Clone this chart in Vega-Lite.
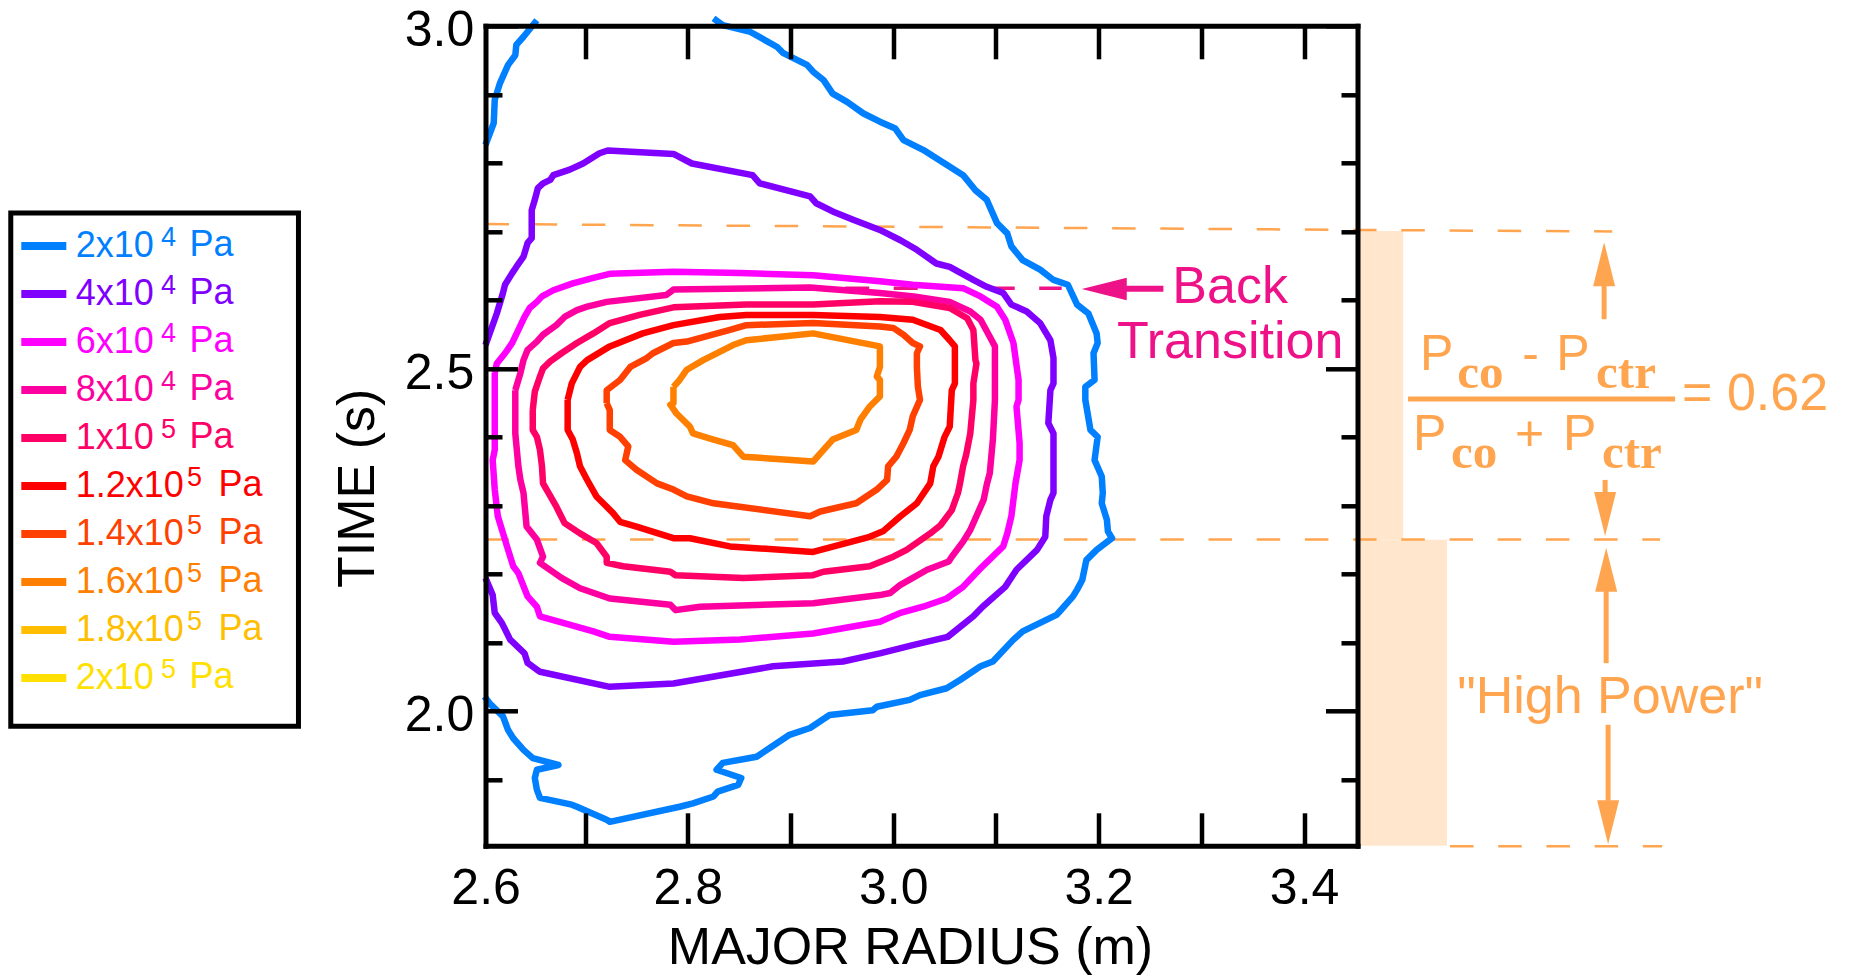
{
"$schema":"https://vega.github.io/schema/vega-lite/v6.json",
"width":872,"height":820,
"autosize":{"type":"none"},
"padding":{"left":485.5,"top":25.8,"right":497.5,"bottom":132.2},
"background":"white",
"config":{"view":{"stroke":null},"axis":{"grid":false}},
"datasets":{
"bars":[{"r":3.452,"r2":3.4964,"t":2.7005,"t2":2.2496},{"r":3.452,"r2":3.5392,"t":2.2496,"t2":1.803}],
"dashes":[{"g":"a","i":0,"r":2.603,"t":2.7107},{"g":"a","i":1,"r":3.452,"t":2.702},{"g":"a","i":2,"r":3.7,"t":2.6998},{"g":"b","i":0,"r":2.603,"t":2.2503},{"g":"b","i":1,"r":3.7466,"t":2.2503},{"g":"c","i":0,"r":3.5421,"t":1.8023},{"g":"c","i":1,"r":3.7486,"t":1.8023}],
"legendbox":[{"r":2.1408,"r2":2.4209,"t":2.7268,"t2":1.9774}],
"sups":[{"s":"4","v":20000,"r":2.287,"t":2.6779},{"s":"4","v":40000,"r":2.287,"t":2.6079},{"s":"4","v":60000,"r":2.287,"t":2.5378},{"s":"4","v":80000,"r":2.287,"t":2.4678},{"s":"5","v":100000,"r":2.287,"t":2.3977},{"s":"5","v":120000,"r":2.3124,"t":2.3277},{"s":"5","v":140000,"r":2.3124,"t":2.2576},{"s":"5","v":160000,"r":2.3124,"t":2.1876},{"s":"5","v":180000,"r":2.3124,"t":2.1175},{"s":"5","v":200000,"r":2.287,"t":2.0475}],
"units":[{"s":"Pa","v":20000,"r":2.3148,"t":2.6636},{"s":"Pa","v":40000,"r":2.3148,"t":2.5936},{"s":"Pa","v":60000,"r":2.3148,"t":2.5235},{"s":"Pa","v":80000,"r":2.3148,"t":2.4535},{"s":"Pa","v":100000,"r":2.3148,"t":2.3834},{"s":"Pa","v":120000,"r":2.343,"t":2.3134},{"s":"Pa","v":140000,"r":2.343,"t":2.2433},{"s":"Pa","v":160000,"r":2.343,"t":2.1733},{"s":"Pa","v":180000,"r":2.343,"t":2.1032},{"s":"Pa","v":200000,"r":2.3148,"t":2.0332}],
"contours":[
{"p":"b1","v":20000,"i":0,"r":2.603,"t":2.826},{"p":"b1","v":20000,"i":1,"r":2.611,"t":2.858},{"p":"b1","v":20000,"i":2,"r":2.612,"t":2.892},{"p":"b1","v":20000,"i":3,"r":2.617,"t":2.916},{"p":"b1","v":20000,"i":4,"r":2.625,"t":2.943},{"p":"b1","v":20000,"i":5,"r":2.632,"t":2.957},{"p":"b1","v":20000,"i":6,"r":2.633,"t":2.972},{"p":"b1","v":20000,"i":7,"r":2.64,"t":2.984},{"p":"b1","v":20000,"i":8,"r":2.653,"t":3.008},
{"p":"b2","v":20000,"i":0,"r":2.825,"t":3.011},{"p":"b2","v":20000,"i":1,"r":2.834,"t":3.001},{"p":"b2","v":20000,"i":2,"r":2.861,"t":2.991},{"p":"b2","v":20000,"i":3,"r":2.887,"t":2.969},{"p":"b2","v":20000,"i":4,"r":2.893,"t":2.96},{"p":"b2","v":20000,"i":5,"r":2.916,"t":2.943},{"p":"b2","v":20000,"i":6,"r":2.922,"t":2.933},{"p":"b2","v":20000,"i":7,"r":2.932,"t":2.921},{"p":"b2","v":20000,"i":8,"r":2.941,"t":2.901},{"p":"b2","v":20000,"i":9,"r":2.955,"t":2.889},{"p":"b2","v":20000,"i":10,"r":2.971,"t":2.872},{"p":"b2","v":20000,"i":11,"r":2.987,"t":2.86},{"p":"b2","v":20000,"i":12,"r":3.002,"t":2.85},{"p":"b2","v":20000,"i":13,"r":3.01,"t":2.833},{"p":"b2","v":20000,"i":14,"r":3.029,"t":2.819},{"p":"b2","v":20000,"i":15,"r":3.052,"t":2.797},{"p":"b2","v":20000,"i":16,"r":3.068,"t":2.782},{"p":"b2","v":20000,"i":17,"r":3.08,"t":2.76},{"p":"b2","v":20000,"i":18,"r":3.091,"t":2.746},{"p":"b2","v":20000,"i":19,"r":3.101,"t":2.712},{"p":"b2","v":20000,"i":20,"r":3.111,"t":2.697},{"p":"b2","v":20000,"i":21,"r":3.115,"t":2.678},{"p":"b2","v":20000,"i":22,"r":3.126,"t":2.658},{"p":"b2","v":20000,"i":23,"r":3.143,"t":2.644},{"p":"b2","v":20000,"i":24,"r":3.156,"t":2.629},{"p":"b2","v":20000,"i":25,"r":3.17,"t":2.622},{"p":"b2","v":20000,"i":26,"r":3.179,"t":2.593},{"p":"b2","v":20000,"i":27,"r":3.19,"t":2.58},{"p":"b2","v":20000,"i":28,"r":3.198,"t":2.551},{"p":"b2","v":20000,"i":29,"r":3.199,"t":2.537},{"p":"b2","v":20000,"i":30,"r":3.195,"t":2.522},{"p":"b2","v":20000,"i":31,"r":3.196,"t":2.483},{"p":"b2","v":20000,"i":32,"r":3.187,"t":2.473},{"p":"b2","v":20000,"i":33,"r":3.187,"t":2.454},{"p":"b2","v":20000,"i":34,"r":3.192,"t":2.41},{"p":"b2","v":20000,"i":35,"r":3.199,"t":2.4},{"p":"b2","v":20000,"i":36,"r":3.196,"t":2.366},{"p":"b2","v":20000,"i":37,"r":3.203,"t":2.342},{"p":"b2","v":20000,"i":38,"r":3.204,"t":2.318},{"p":"b2","v":20000,"i":39,"r":3.203,"t":2.303},{"p":"b2","v":20000,"i":40,"r":3.208,"t":2.279},{"p":"b2","v":20000,"i":41,"r":3.209,"t":2.262},{"p":"b2","v":20000,"i":42,"r":3.213,"t":2.252},{"p":"b2","v":20000,"i":43,"r":3.198,"t":2.235},{"p":"b2","v":20000,"i":44,"r":3.188,"t":2.22},{"p":"b2","v":20000,"i":45,"r":3.184,"t":2.191},{"p":"b2","v":20000,"i":46,"r":3.179,"t":2.177},{"p":"b2","v":20000,"i":47,"r":3.175,"t":2.167},{"p":"b2","v":20000,"i":48,"r":3.162,"t":2.145},{"p":"b2","v":20000,"i":49,"r":3.159,"t":2.14},{"p":"b2","v":20000,"i":50,"r":3.126,"t":2.116},{"p":"b2","v":20000,"i":51,"r":3.117,"t":2.104},{"p":"b2","v":20000,"i":52,"r":3.097,"t":2.072},{"p":"b2","v":20000,"i":53,"r":3.085,"t":2.065},{"p":"b2","v":20000,"i":54,"r":3.065,"t":2.045},{"p":"b2","v":20000,"i":55,"r":3.052,"t":2.033},{"p":"b2","v":20000,"i":56,"r":3.026,"t":2.023},{"p":"b2","v":20000,"i":57,"r":3.016,"t":2.016},{"p":"b2","v":20000,"i":58,"r":2.984,"t":2.006},{"p":"b2","v":20000,"i":59,"r":2.98,"t":2.001},{"p":"b2","v":20000,"i":60,"r":2.938,"t":1.994},{"p":"b2","v":20000,"i":61,"r":2.919,"t":1.975},{"p":"b2","v":20000,"i":62,"r":2.899,"t":1.965},{"p":"b2","v":20000,"i":63,"r":2.887,"t":1.953},{"p":"b2","v":20000,"i":64,"r":2.867,"t":1.933},{"p":"b2","v":20000,"i":65,"r":2.834,"t":1.924},{"p":"b2","v":20000,"i":66,"r":2.828,"t":1.914},{"p":"b2","v":20000,"i":67,"r":2.852,"t":1.902},{"p":"b2","v":20000,"i":68,"r":2.849,"t":1.892},{"p":"b2","v":20000,"i":69,"r":2.829,"t":1.882},{"p":"b2","v":20000,"i":70,"r":2.825,"t":1.875},{"p":"b2","v":20000,"i":71,"r":2.805,"t":1.865},{"p":"b2","v":20000,"i":72,"r":2.792,"t":1.86},{"p":"b2","v":20000,"i":73,"r":2.724,"t":1.838},{"p":"b2","v":20000,"i":74,"r":2.721,"t":1.841},{"p":"b2","v":20000,"i":75,"r":2.692,"t":1.86},{"p":"b2","v":20000,"i":76,"r":2.687,"t":1.863},{"p":"b2","v":20000,"i":77,"r":2.656,"t":1.873},{"p":"b2","v":20000,"i":78,"r":2.653,"t":1.885},{"p":"b2","v":20000,"i":79,"r":2.651,"t":1.902},{"p":"b2","v":20000,"i":80,"r":2.653,"t":1.914},{"p":"b2","v":20000,"i":81,"r":2.674,"t":1.921},{"p":"b2","v":20000,"i":82,"r":2.649,"t":1.931},{"p":"b2","v":20000,"i":83,"r":2.64,"t":1.943},{"p":"b2","v":20000,"i":84,"r":2.63,"t":1.96},{"p":"b2","v":20000,"i":85,"r":2.625,"t":1.972},{"p":"b2","v":20000,"i":86,"r":2.62,"t":1.992},{"p":"b2","v":20000,"i":87,"r":2.607,"t":2.011},{"p":"b2","v":20000,"i":88,"r":2.602,"t":2.021},
{"p":"pu","v":40000,"i":0,"r":2.603,"t":2.534},{"p":"pu","v":40000,"i":1,"r":2.614,"t":2.58},{"p":"pu","v":40000,"i":2,"r":2.62,"t":2.61},{"p":"pu","v":40000,"i":3,"r":2.622,"t":2.622},{"p":"pu","v":40000,"i":4,"r":2.629,"t":2.639},{"p":"pu","v":40000,"i":5,"r":2.633,"t":2.648},{"p":"pu","v":40000,"i":6,"r":2.64,"t":2.663},{"p":"pu","v":40000,"i":7,"r":2.644,"t":2.683},{"p":"pu","v":40000,"i":8,"r":2.648,"t":2.69},{"p":"pu","v":40000,"i":9,"r":2.648,"t":2.731},{"p":"pu","v":40000,"i":10,"r":2.651,"t":2.746},{"p":"pu","v":40000,"i":11,"r":2.654,"t":2.763},{"p":"pu","v":40000,"i":12,"r":2.659,"t":2.77},{"p":"pu","v":40000,"i":13,"r":2.666,"t":2.775},{"p":"pu","v":40000,"i":14,"r":2.669,"t":2.782},{"p":"pu","v":40000,"i":15,"r":2.685,"t":2.79},{"p":"pu","v":40000,"i":16,"r":2.698,"t":2.799},{"p":"pu","v":40000,"i":17,"r":2.714,"t":2.814},{"p":"pu","v":40000,"i":18,"r":2.722,"t":2.818},{"p":"pu","v":40000,"i":19,"r":2.786,"t":2.813},{"p":"pu","v":40000,"i":20,"r":2.804,"t":2.799},{"p":"pu","v":40000,"i":21,"r":2.863,"t":2.782},{"p":"pu","v":40000,"i":22,"r":2.87,"t":2.77},{"p":"pu","v":40000,"i":23,"r":2.919,"t":2.751},{"p":"pu","v":40000,"i":24,"r":2.925,"t":2.741},{"p":"pu","v":40000,"i":25,"r":2.941,"t":2.729},{"p":"pu","v":40000,"i":26,"r":2.961,"t":2.717},{"p":"pu","v":40000,"i":27,"r":2.987,"t":2.702},{"p":"pu","v":40000,"i":28,"r":3.007,"t":2.687},{"p":"pu","v":40000,"i":29,"r":3.023,"t":2.673},{"p":"pu","v":40000,"i":30,"r":3.042,"t":2.653},{"p":"pu","v":40000,"i":31,"r":3.055,"t":2.648},{"p":"pu","v":40000,"i":32,"r":3.078,"t":2.629},{"p":"pu","v":40000,"i":33,"r":3.091,"t":2.619},{"p":"pu","v":40000,"i":34,"r":3.107,"t":2.61},{"p":"pu","v":40000,"i":35,"r":3.115,"t":2.593},{"p":"pu","v":40000,"i":36,"r":3.13,"t":2.583},{"p":"pu","v":40000,"i":37,"r":3.143,"t":2.566},{"p":"pu","v":40000,"i":38,"r":3.153,"t":2.541},{"p":"pu","v":40000,"i":39,"r":3.156,"t":2.515},{"p":"pu","v":40000,"i":40,"r":3.156,"t":2.478},{"p":"pu","v":40000,"i":41,"r":3.153,"t":2.468},{"p":"pu","v":40000,"i":42,"r":3.151,"t":2.42},{"p":"pu","v":40000,"i":43,"r":3.156,"t":2.405},{"p":"pu","v":40000,"i":44,"r":3.156,"t":2.318},{"p":"pu","v":40000,"i":45,"r":3.153,"t":2.308},{"p":"pu","v":40000,"i":46,"r":3.149,"t":2.284},{"p":"pu","v":40000,"i":47,"r":3.148,"t":2.254},{"p":"pu","v":40000,"i":48,"r":3.14,"t":2.235},{"p":"pu","v":40000,"i":49,"r":3.12,"t":2.206},{"p":"pu","v":40000,"i":50,"r":3.109,"t":2.181},{"p":"pu","v":40000,"i":51,"r":3.087,"t":2.152},{"p":"pu","v":40000,"i":52,"r":3.078,"t":2.138},{"p":"pu","v":40000,"i":53,"r":3.053,"t":2.108},{"p":"pu","v":40000,"i":54,"r":3.019,"t":2.096},{"p":"pu","v":40000,"i":55,"r":2.987,"t":2.084},{"p":"pu","v":40000,"i":56,"r":2.951,"t":2.072},{"p":"pu","v":40000,"i":57,"r":2.883,"t":2.065},{"p":"pu","v":40000,"i":58,"r":2.786,"t":2.04},{"p":"pu","v":40000,"i":59,"r":2.724,"t":2.035},{"p":"pu","v":40000,"i":60,"r":2.656,"t":2.057},{"p":"pu","v":40000,"i":61,"r":2.644,"t":2.07},{"p":"pu","v":40000,"i":62,"r":2.641,"t":2.084},{"p":"pu","v":40000,"i":63,"r":2.627,"t":2.104},{"p":"pu","v":40000,"i":64,"r":2.619,"t":2.128},{"p":"pu","v":40000,"i":65,"r":2.612,"t":2.143},{"p":"pu","v":40000,"i":66,"r":2.61,"t":2.169},{"p":"pu","v":40000,"i":67,"r":2.603,"t":2.194},
{"p":"m","v":60000,"i":0,"r":2.612,"t":2.493},{"p":"m","v":60000,"i":1,"r":2.614,"t":2.507},{"p":"m","v":60000,"i":2,"r":2.622,"t":2.522},{"p":"m","v":60000,"i":3,"r":2.629,"t":2.537},{"p":"m","v":60000,"i":4,"r":2.635,"t":2.556},{"p":"m","v":60000,"i":5,"r":2.641,"t":2.575},{"p":"m","v":60000,"i":6,"r":2.646,"t":2.588},{"p":"m","v":60000,"i":7,"r":2.653,"t":2.597},{"p":"m","v":60000,"i":8,"r":2.658,"t":2.605},{"p":"m","v":60000,"i":9,"r":2.669,"t":2.614},{"p":"m","v":60000,"i":10,"r":2.688,"t":2.624},{"p":"m","v":60000,"i":11,"r":2.708,"t":2.632},{"p":"m","v":60000,"i":12,"r":2.724,"t":2.638},{"p":"m","v":60000,"i":13,"r":2.786,"t":2.641},{"p":"m","v":60000,"i":14,"r":2.851,"t":2.639},{"p":"m","v":60000,"i":15,"r":2.922,"t":2.636},{"p":"m","v":60000,"i":16,"r":2.987,"t":2.627},{"p":"m","v":60000,"i":17,"r":3.019,"t":2.622},{"p":"m","v":60000,"i":18,"r":3.068,"t":2.617},{"p":"m","v":60000,"i":19,"r":3.085,"t":2.605},{"p":"m","v":60000,"i":20,"r":3.101,"t":2.59},{"p":"m","v":60000,"i":21,"r":3.109,"t":2.571},{"p":"m","v":60000,"i":22,"r":3.117,"t":2.537},{"p":"m","v":60000,"i":23,"r":3.122,"t":2.483},{"p":"m","v":60000,"i":24,"r":3.122,"t":2.454},{"p":"m","v":60000,"i":25,"r":3.12,"t":2.444},{"p":"m","v":60000,"i":26,"r":3.123,"t":2.391},{"p":"m","v":60000,"i":27,"r":3.123,"t":2.366},{"p":"m","v":60000,"i":28,"r":3.119,"t":2.332},{"p":"m","v":60000,"i":29,"r":3.115,"t":2.284},{"p":"m","v":60000,"i":30,"r":3.111,"t":2.259},{"p":"m","v":60000,"i":31,"r":3.107,"t":2.24},{"p":"m","v":60000,"i":32,"r":3.087,"t":2.211},{"p":"m","v":60000,"i":33,"r":3.068,"t":2.181},{"p":"m","v":60000,"i":34,"r":3.052,"t":2.164},{"p":"m","v":60000,"i":35,"r":3.029,"t":2.152},{"p":"m","v":60000,"i":36,"r":3.007,"t":2.143},{"p":"m","v":60000,"i":37,"r":2.987,"t":2.13},{"p":"m","v":60000,"i":38,"r":2.922,"t":2.113},{"p":"m","v":60000,"i":39,"r":2.851,"t":2.104},{"p":"m","v":60000,"i":40,"r":2.786,"t":2.101},{"p":"m","v":60000,"i":41,"r":2.724,"t":2.108},{"p":"m","v":60000,"i":42,"r":2.708,"t":2.116},{"p":"m","v":60000,"i":43,"r":2.656,"t":2.138},{"p":"m","v":60000,"i":44,"r":2.653,"t":2.152},{"p":"m","v":60000,"i":45,"r":2.644,"t":2.167},{"p":"m","v":60000,"i":46,"r":2.635,"t":2.201},{"p":"m","v":60000,"i":47,"r":2.63,"t":2.211},{"p":"m","v":60000,"i":48,"r":2.625,"t":2.235},{"p":"m","v":60000,"i":49,"r":2.615,"t":2.284},{"p":"m","v":60000,"i":50,"r":2.612,"t":2.323},{"p":"m","v":60000,"i":51,"r":2.61,"t":2.366},{"p":"m","v":60000,"i":52,"r":2.612,"t":2.381},{"p":"m","v":60000,"i":53,"r":2.612,"t":2.493},
{"p":"k","v":80000,"i":0,"r":2.632,"t":2.468},{"p":"k","v":80000,"i":1,"r":2.637,"t":2.493},{"p":"k","v":80000,"i":2,"r":2.64,"t":2.512},{"p":"k","v":80000,"i":3,"r":2.644,"t":2.527},{"p":"k","v":80000,"i":4,"r":2.653,"t":2.539},{"p":"k","v":80000,"i":5,"r":2.659,"t":2.549},{"p":"k","v":80000,"i":6,"r":2.672,"t":2.563},{"p":"k","v":80000,"i":7,"r":2.68,"t":2.575},{"p":"k","v":80000,"i":8,"r":2.692,"t":2.585},{"p":"k","v":80000,"i":9,"r":2.702,"t":2.59},{"p":"k","v":80000,"i":10,"r":2.721,"t":2.597},{"p":"k","v":80000,"i":11,"r":2.779,"t":2.607},{"p":"k","v":80000,"i":12,"r":2.786,"t":2.615},{"p":"k","v":80000,"i":13,"r":2.919,"t":2.618},{"p":"k","v":80000,"i":14,"r":2.987,"t":2.61},{"p":"k","v":80000,"i":15,"r":3.02,"t":2.605},{"p":"k","v":80000,"i":16,"r":3.055,"t":2.597},{"p":"k","v":80000,"i":17,"r":3.075,"t":2.583},{"p":"k","v":80000,"i":18,"r":3.085,"t":2.571},{"p":"k","v":80000,"i":19,"r":3.094,"t":2.546},{"p":"k","v":80000,"i":20,"r":3.099,"t":2.532},{"p":"k","v":80000,"i":21,"r":3.099,"t":2.454},{"p":"k","v":80000,"i":22,"r":3.097,"t":2.396},{"p":"k","v":80000,"i":23,"r":3.094,"t":2.347},{"p":"k","v":80000,"i":24,"r":3.091,"t":2.33},{"p":"k","v":80000,"i":25,"r":3.088,"t":2.308},{"p":"k","v":80000,"i":26,"r":3.075,"t":2.264},{"p":"k","v":80000,"i":27,"r":3.068,"t":2.247},{"p":"k","v":80000,"i":28,"r":3.057,"t":2.225},{"p":"k","v":80000,"i":29,"r":3.054,"t":2.218},{"p":"k","v":80000,"i":30,"r":3.033,"t":2.206},{"p":"k","v":80000,"i":31,"r":3.007,"t":2.184},{"p":"k","v":80000,"i":32,"r":2.997,"t":2.172},{"p":"k","v":80000,"i":33,"r":2.987,"t":2.169},{"p":"k","v":80000,"i":34,"r":2.922,"t":2.157},{"p":"k","v":80000,"i":35,"r":2.812,"t":2.152},{"p":"k","v":80000,"i":36,"r":2.788,"t":2.147},{"p":"k","v":80000,"i":37,"r":2.783,"t":2.155},{"p":"k","v":80000,"i":38,"r":2.724,"t":2.164},{"p":"k","v":80000,"i":39,"r":2.695,"t":2.179},{"p":"k","v":80000,"i":40,"r":2.677,"t":2.194},{"p":"k","v":80000,"i":41,"r":2.656,"t":2.216},{"p":"k","v":80000,"i":42,"r":2.659,"t":2.225},{"p":"k","v":80000,"i":43,"r":2.653,"t":2.25},{"p":"k","v":80000,"i":44,"r":2.643,"t":2.269},{"p":"k","v":80000,"i":45,"r":2.64,"t":2.318},{"p":"k","v":80000,"i":46,"r":2.637,"t":2.337},{"p":"k","v":80000,"i":47,"r":2.635,"t":2.357},{"p":"k","v":80000,"i":48,"r":2.632,"t":2.405},{"p":"k","v":80000,"i":49,"r":2.632,"t":2.468},
{"p":"r","v":100000,"i":0,"r":2.649,"t":2.439},{"p":"r","v":100000,"i":1,"r":2.651,"t":2.466},{"p":"r","v":100000,"i":2,"r":2.656,"t":2.488},{"p":"r","v":100000,"i":3,"r":2.659,"t":2.5},{"p":"r","v":100000,"i":4,"r":2.666,"t":2.51},{"p":"r","v":100000,"i":5,"r":2.677,"t":2.522},{"p":"r","v":100000,"i":6,"r":2.692,"t":2.537},{"p":"r","v":100000,"i":7,"r":2.708,"t":2.551},{"p":"r","v":100000,"i":8,"r":2.724,"t":2.566},{"p":"r","v":100000,"i":9,"r":2.753,"t":2.578},{"p":"r","v":100000,"i":10,"r":2.786,"t":2.589},{"p":"r","v":100000,"i":11,"r":2.857,"t":2.593},{"p":"r","v":100000,"i":12,"r":2.922,"t":2.593},{"p":"r","v":100000,"i":13,"r":2.987,"t":2.598},{"p":"r","v":100000,"i":14,"r":3.019,"t":2.597},{"p":"r","v":100000,"i":15,"r":3.055,"t":2.588},{"p":"r","v":100000,"i":16,"r":3.072,"t":2.573},{"p":"r","v":100000,"i":17,"r":3.078,"t":2.556},{"p":"r","v":100000,"i":18,"r":3.08,"t":2.512},{"p":"r","v":100000,"i":19,"r":3.081,"t":2.507},{"p":"r","v":100000,"i":20,"r":3.078,"t":2.478},{"p":"r","v":100000,"i":21,"r":3.078,"t":2.454},{"p":"r","v":100000,"i":22,"r":3.075,"t":2.405},{"p":"r","v":100000,"i":23,"r":3.071,"t":2.374},{"p":"r","v":100000,"i":24,"r":3.068,"t":2.357},{"p":"r","v":100000,"i":25,"r":3.065,"t":2.332},{"p":"r","v":100000,"i":26,"r":3.063,"t":2.318},{"p":"r","v":100000,"i":27,"r":3.057,"t":2.293},{"p":"r","v":100000,"i":28,"r":3.046,"t":2.271},{"p":"r","v":100000,"i":29,"r":3.036,"t":2.259},{"p":"r","v":100000,"i":30,"r":3.013,"t":2.235},{"p":"r","v":100000,"i":31,"r":3.0,"t":2.225},{"p":"r","v":100000,"i":32,"r":2.977,"t":2.211},{"p":"r","v":100000,"i":33,"r":2.932,"t":2.203},{"p":"r","v":100000,"i":34,"r":2.922,"t":2.198},{"p":"r","v":100000,"i":35,"r":2.854,"t":2.194},{"p":"r","v":100000,"i":36,"r":2.788,"t":2.198},{"p":"r","v":100000,"i":37,"r":2.783,"t":2.203},{"p":"r","v":100000,"i":38,"r":2.737,"t":2.211},{"p":"r","v":100000,"i":39,"r":2.721,"t":2.216},{"p":"r","v":100000,"i":40,"r":2.721,"t":2.225},{"p":"r","v":100000,"i":41,"r":2.711,"t":2.245},{"p":"r","v":100000,"i":42,"r":2.695,"t":2.259},{"p":"r","v":100000,"i":43,"r":2.68,"t":2.274},{"p":"r","v":100000,"i":44,"r":2.672,"t":2.298},{"p":"r","v":100000,"i":45,"r":2.659,"t":2.332},{"p":"r","v":100000,"i":46,"r":2.658,"t":2.357},{"p":"r","v":100000,"i":47,"r":2.656,"t":2.381},{"p":"r","v":100000,"i":48,"r":2.653,"t":2.4},{"p":"r","v":100000,"i":49,"r":2.649,"t":2.41},{"p":"r","v":100000,"i":50,"r":2.649,"t":2.439},
{"p":"d","v":120000,"i":0,"r":2.683,"t":2.454},{"p":"d","v":120000,"i":1,"r":2.687,"t":2.478},{"p":"d","v":120000,"i":2,"r":2.695,"t":2.502},{"p":"d","v":120000,"i":3,"r":2.702,"t":2.512},{"p":"d","v":120000,"i":4,"r":2.724,"t":2.532},{"p":"d","v":120000,"i":5,"r":2.756,"t":2.551},{"p":"d","v":120000,"i":6,"r":2.786,"t":2.563},{"p":"d","v":120000,"i":7,"r":2.831,"t":2.575},{"p":"d","v":120000,"i":8,"r":2.857,"t":2.578},{"p":"d","v":120000,"i":9,"r":2.922,"t":2.578},{"p":"d","v":120000,"i":10,"r":2.987,"t":2.575},{"p":"d","v":120000,"i":11,"r":3.019,"t":2.571},{"p":"d","v":120000,"i":12,"r":3.046,"t":2.556},{"p":"d","v":120000,"i":13,"r":3.055,"t":2.541},{"p":"d","v":120000,"i":14,"r":3.06,"t":2.532},{"p":"d","v":120000,"i":15,"r":3.06,"t":2.478},{"p":"d","v":120000,"i":16,"r":3.057,"t":2.468},{"p":"d","v":120000,"i":17,"r":3.055,"t":2.415},{"p":"d","v":120000,"i":18,"r":3.05,"t":2.4},{"p":"d","v":120000,"i":19,"r":3.044,"t":2.371},{"p":"d","v":120000,"i":20,"r":3.039,"t":2.357},{"p":"d","v":120000,"i":21,"r":3.036,"t":2.332},{"p":"d","v":120000,"i":22,"r":3.023,"t":2.303},{"p":"d","v":120000,"i":23,"r":3.007,"t":2.284},{"p":"d","v":120000,"i":24,"r":2.99,"t":2.262},{"p":"d","v":120000,"i":25,"r":2.977,"t":2.254},{"p":"d","v":120000,"i":26,"r":2.922,"t":2.232},{"p":"d","v":120000,"i":27,"r":2.841,"t":2.24},{"p":"d","v":120000,"i":28,"r":2.802,"t":2.252},{"p":"d","v":120000,"i":29,"r":2.786,"t":2.252},{"p":"d","v":120000,"i":30,"r":2.75,"t":2.269},{"p":"d","v":120000,"i":31,"r":2.734,"t":2.276},{"p":"d","v":120000,"i":32,"r":2.727,"t":2.289},{"p":"d","v":120000,"i":33,"r":2.711,"t":2.313},{"p":"d","v":120000,"i":34,"r":2.702,"t":2.337},{"p":"d","v":120000,"i":35,"r":2.695,"t":2.357},{"p":"d","v":120000,"i":36,"r":2.692,"t":2.376},{"p":"d","v":120000,"i":37,"r":2.688,"t":2.396},{"p":"d","v":120000,"i":38,"r":2.683,"t":2.41},{"p":"d","v":120000,"i":39,"r":2.683,"t":2.454},
{"p":"o","v":140000,"i":0,"r":2.721,"t":2.449},{"p":"o","v":140000,"i":1,"r":2.721,"t":2.468},{"p":"o","v":140000,"i":2,"r":2.734,"t":2.483},{"p":"o","v":140000,"i":3,"r":2.744,"t":2.502},{"p":"o","v":140000,"i":4,"r":2.76,"t":2.515},{"p":"o","v":140000,"i":5,"r":2.766,"t":2.522},{"p":"o","v":140000,"i":6,"r":2.786,"t":2.537},{"p":"o","v":140000,"i":7,"r":2.799,"t":2.539},{"p":"o","v":140000,"i":8,"r":2.841,"t":2.556},{"p":"o","v":140000,"i":9,"r":2.857,"t":2.563},{"p":"o","v":140000,"i":10,"r":2.922,"t":2.566},{"p":"o","v":140000,"i":11,"r":2.987,"t":2.561},{"p":"o","v":140000,"i":12,"r":3.0,"t":2.559},{"p":"o","v":140000,"i":13,"r":3.01,"t":2.549},{"p":"o","v":140000,"i":14,"r":3.019,"t":2.537},{"p":"o","v":140000,"i":15,"r":3.026,"t":2.532},{"p":"o","v":140000,"i":16,"r":3.023,"t":2.522},{"p":"o","v":140000,"i":17,"r":3.023,"t":2.502},{"p":"o","v":140000,"i":18,"r":3.024,"t":2.473},{"p":"o","v":140000,"i":19,"r":3.026,"t":2.454},{"p":"o","v":140000,"i":20,"r":3.019,"t":2.43},{"p":"o","v":140000,"i":21,"r":3.016,"t":2.41},{"p":"o","v":140000,"i":22,"r":3.01,"t":2.391},{"p":"o","v":140000,"i":23,"r":3.003,"t":2.371},{"p":"o","v":140000,"i":24,"r":2.995,"t":2.357},{"p":"o","v":140000,"i":25,"r":2.994,"t":2.337},{"p":"o","v":140000,"i":26,"r":2.984,"t":2.323},{"p":"o","v":140000,"i":27,"r":2.964,"t":2.303},{"p":"o","v":140000,"i":28,"r":2.929,"t":2.291},{"p":"o","v":140000,"i":29,"r":2.919,"t":2.284},{"p":"o","v":140000,"i":30,"r":2.825,"t":2.303},{"p":"o","v":140000,"i":31,"r":2.799,"t":2.313},{"p":"o","v":140000,"i":32,"r":2.786,"t":2.323},{"p":"o","v":140000,"i":33,"r":2.77,"t":2.332},{"p":"o","v":140000,"i":34,"r":2.75,"t":2.352},{"p":"o","v":140000,"i":35,"r":2.739,"t":2.366},{"p":"o","v":140000,"i":36,"r":2.742,"t":2.386},{"p":"o","v":140000,"i":37,"r":2.734,"t":2.4},{"p":"o","v":140000,"i":38,"r":2.724,"t":2.41},{"p":"o","v":140000,"i":39,"r":2.724,"t":2.439},{"p":"o","v":140000,"i":40,"r":2.721,"t":2.449},
{"p":"g","v":160000,"i":0,"r":2.786,"t":2.473},{"p":"g","v":160000,"i":1,"r":2.792,"t":2.483},{"p":"g","v":160000,"i":2,"r":2.799,"t":2.498},{"p":"g","v":160000,"i":3,"r":2.815,"t":2.512},{"p":"g","v":160000,"i":4,"r":2.844,"t":2.534},{"p":"g","v":160000,"i":5,"r":2.857,"t":2.541},{"p":"g","v":160000,"i":6,"r":2.922,"t":2.551},{"p":"g","v":160000,"i":7,"r":2.987,"t":2.532},{"p":"g","v":160000,"i":8,"r":2.987,"t":2.502},{"p":"g","v":160000,"i":9,"r":2.984,"t":2.488},{"p":"g","v":160000,"i":10,"r":2.987,"t":2.483},{"p":"g","v":160000,"i":11,"r":2.987,"t":2.459},{"p":"g","v":160000,"i":12,"r":2.977,"t":2.444},{"p":"g","v":160000,"i":13,"r":2.968,"t":2.425},{"p":"g","v":160000,"i":14,"r":2.964,"t":2.41},{"p":"g","v":160000,"i":15,"r":2.941,"t":2.396},{"p":"g","v":160000,"i":16,"r":2.922,"t":2.364},{"p":"g","v":160000,"i":17,"r":2.854,"t":2.371},{"p":"g","v":160000,"i":18,"r":2.844,"t":2.388},{"p":"g","v":160000,"i":19,"r":2.825,"t":2.396},{"p":"g","v":160000,"i":20,"r":2.805,"t":2.405},{"p":"g","v":160000,"i":21,"r":2.802,"t":2.415},{"p":"g","v":160000,"i":22,"r":2.789,"t":2.434},{"p":"g","v":160000,"i":23,"r":2.783,"t":2.447},{"p":"g","v":160000,"i":24,"r":2.786,"t":2.449},{"p":"g","v":160000,"i":25,"r":2.786,"t":2.473}
],
"shafts":[{"r":3.6921,"t":2.6203,"t2":2.5717},{"r":3.6931,"t":2.3371,"t2":2.3167},{"r":3.6941,"t":2.1751,"t2":2.0696},{"r":3.696,"t":1.9796,"t2":1.8687}],
"heads":[{"r":3.6921,"t":2.6521,"d":"up"},{"r":3.6931,"t":2.2875,"d":"down"},{"r":3.6941,"t":2.2058,"d":"up"},{"r":3.696,"t":1.8373,"d":"down"}],
"sans":[{"s":"P","r":3.5129,"t":2.4977},{"s":"-","r":3.6123,"t":2.4977},{"s":"P","r":3.6454,"t":2.4977},{"s":"P","r":3.5061,"t":2.3809},{"s":"+","r":3.6054,"t":2.3809},{"s":"P","r":3.6522,"t":2.3809}],
"serif":[{"s":"co","r":3.549,"t":2.4714},{"s":"ctr","r":3.6843,"t":2.4714},{"s":"co","r":3.5431,"t":2.3546},{"s":"ctr","r":3.6901,"t":2.3546}]
},
"layer":[
{"data":{"name":"bars"},"mark":{"type":"rect","color":"#FFE6CC","clip":false},
 "encoding":{
  "x":{"field":"r","type":"quantitative","scale":{"domain":[2.603,3.452],"nice":false,"zero":false},
   "axis":{"orient":"top","values":[2.7,2.8,2.9,3.0,3.1,3.2,3.3,3.4],"labels":false,"title":null,"tickSize":-33,"tickWidth":4.5,"tickColor":"black","domainWidth":5,"domainColor":"black","domainCap":"square","grid":false,"zindex":1}},
  "x2":{"field":"r2"},
  "y":{"field":"t","type":"quantitative","scale":{"domain":[1.803,3.0],"nice":false,"zero":false},
   "axis":{"orient":"right","values":[2.0,2.5,3.0],"labels":false,"title":null,"tickSize":-32,"tickWidth":4.5,"tickColor":"black","domainWidth":5,"domainColor":"black","domainCap":"square","grid":false,"zindex":1}},
  "y2":{"field":"t2"}}},
{"data":{"name":"dashes"},"mark":{"type":"line","color":"#FFA54F","strokeWidth":2.5,"strokeDash":[23.5,24.7],"clip":false},
 "encoding":{
  "x":{"field":"r","type":"quantitative","scale":{"domain":[2.603,3.452],"nice":false,"zero":false},"axis":null},
  "y":{"field":"t","type":"quantitative","scale":{"domain":[1.803,3.0],"nice":false,"zero":false},
   "axis":{"orient":"right","values":[1.9,2.1,2.2,2.3,2.4,2.6,2.7,2.8,2.9],"labels":false,"title":null,"domain":false,"tickSize":-16.5,"tickWidth":4.5,"tickColor":"black","grid":false,"zindex":1}},
  "detail":{"field":"g"},"order":{"field":"i"}}},
{"data":{"values":[{"r":2.906,"r2":3.164,"t":2.617}]},"mark":{"type":"rule","color":"#EE1289","strokeWidth":3.5,"strokeDash":[24,24.5],"clip":false},
 "encoding":{
  "x":{"field":"r","type":"quantitative","scale":{"domain":[2.603,3.452],"nice":false,"zero":false},"axis":null},
  "x2":{"field":"r2"},
  "y":{"field":"t","type":"quantitative","scale":{"domain":[1.803,3.0],"nice":false,"zero":false},
   "axis":{"orient":"left","values":[1.9,2.1,2.2,2.3,2.4,2.6,2.7,2.8,2.9],"labels":false,"title":null,"domain":false,"tickSize":-16.5,"tickWidth":4.5,"tickColor":"black","grid":false,"zindex":1}}}},
{"data":{"name":"legendbox"},"mark":{"type":"rect","filled":false,"color":"black","strokeWidth":5,"clip":false},
 "encoding":{"x":{"field":"r","type":"quantitative","scale":{"domain":[2.603,3.452],"nice":false,"zero":false},"axis":null},"x2":{"field":"r2"},"y":{"field":"t","type":"quantitative","scale":{"domain":[1.803,3.0],"nice":false,"zero":false},"axis":null},"y2":{"field":"t2"}}},
{"data":{"name":"contours"},"mark":{"type":"line","strokeWidth":6.5,"strokeJoin":"round","strokeCap":"butt","clip":false},
 "encoding":{
  "x":{"field":"r","type":"quantitative","scale":{"domain":[2.603,3.452],"nice":false,"zero":false},
   "axis":{"orient":"bottom","values":[2.6031,2.7,2.8,2.9,3.0,3.1,3.2,3.3,3.4],"format":".1f","labelExpr":"datum.value < 2.65 ? '2.6' : (round(datum.value*10)%2==0 ? datum.label : '')","tickSize":-33,"tickWidth":4.5,"tickColor":"black","tickOpacity":{"condition":{"test":"datum.value < 2.65","value":0},"value":1},"domainWidth":5,"domainColor":"black","domainCap":"square","labelFont":"Liberation Sans","labelFontSize":50,"labelColor":"black","labelPadding":50.5,"labelFlush":false,"labelOverlap":false,"title":"MAJOR RADIUS (m)","titleFont":"Liberation Sans","titleFontSize":52,"titleFontWeight":"normal","titleColor":"black","titleX":424.5,"titleY":118,"titleBaseline":"alphabetic","titleAlign":"center","grid":false,"zindex":1}},
  "y":{"field":"t","type":"quantitative","scale":{"domain":[1.803,3.0],"nice":false,"zero":false},
   "axis":{"orient":"left","values":[2.0,2.5,3.0],"format":".1f","tickSize":-32,"tickWidth":4.5,"tickColor":"black","domainWidth":5,"domainColor":"black","domainCap":"square","labelFont":"Liberation Sans","labelFontSize":50,"labelColor":"black","labelPadding":43.8,"labelOffset":5,"labelFlush":false,"labelOverlap":false,"title":"TIME (s)","titleFont":"Liberation Sans","titleFontSize":52,"titleFontWeight":"normal","titleColor":"black","titleAngle":-90,"titleX":-112,"titleY":462,"titleBaseline":"alphabetic","titleAlign":"center","grid":false,"zindex":1}},
  "color":{"field":"v","type":"nominal",
   "scale":{"domain":[20000,40000,60000,80000,100000,120000,140000,160000,180000,200000],"range":["#0080FF","#8000FF","#FF00FF","#FF00A0","#FF0066","#FF0000","#FF4000","#FF8000","#FFBF00","#FFE000"]},
   "legend":{"orient":"none","legendX":-474.7,"legendY":187.2,"title":null,
    "symbolType":"M-1.5,0L1.5,0","symbolSize":900,"symbolStrokeWidth":8,
    "labelFont":"Liberation Sans","labelFontSize":36,"labelOffset":13,"labelLimit":500,"rowPadding":11,"padding":14,
    "labelExpr":"['2x10','4x10','6x10','8x10','1x10','1.2x10','1.4x10','1.6x10','1.8x10','2x10'][indexof([20000,40000,60000,80000,100000,120000,140000,160000,180000,200000], +datum.value)]",
    "encode":{"labels":{"update":{"fill":{"scale":"color","field":"value"}}}}}},
  "detail":{"field":"p"},
  "order":{"field":"i"}}},
{"data":{"name":"sups"},"mark":{"type":"text","font":"Liberation Sans","fontSize":27,"align":"left","baseline":"alphabetic","clip":false},
 "encoding":{"x":{"field":"r","type":"quantitative","scale":{"domain":[2.603,3.452],"nice":false,"zero":false},"axis":null},"y":{"field":"t","type":"quantitative","scale":{"domain":[1.803,3.0],"nice":false,"zero":false},"axis":null},"text":{"field":"s"},
  "fill":{"field":"v","type":"nominal","scale":{"domain":[20000,40000,60000,80000,100000,120000,140000,160000,180000,200000],"range":["#0080FF","#8000FF","#FF00FF","#FF00A0","#FF0066","#FF0000","#FF4000","#FF8000","#FFBF00","#FFE000"]},"legend":null}}},
{"data":{"name":"units"},"mark":{"type":"text","font":"Liberation Sans","fontSize":36,"align":"left","baseline":"alphabetic","clip":false},
 "encoding":{"x":{"field":"r","type":"quantitative","scale":{"domain":[2.603,3.452],"nice":false,"zero":false},"axis":null},"y":{"field":"t","type":"quantitative","scale":{"domain":[1.803,3.0],"nice":false,"zero":false},"axis":null},"text":{"field":"s"},
  "fill":{"field":"v","type":"nominal","scale":{"domain":[20000,40000,60000,80000,100000,120000,140000,160000,180000,200000],"range":["#0080FF","#8000FF","#FF00FF","#FF00A0","#FF0066","#FF0000","#FF4000","#FF8000","#FFBF00","#FFE000"]},"legend":null}}},
{"data":{"values":[{"r":3.2208,"r2":3.263,"t":2.616}]},"mark":{"type":"rule","color":"#EE1289","strokeWidth":6,"clip":false},
 "encoding":{"x":{"field":"r","type":"quantitative","scale":{"domain":[2.603,3.452],"nice":false,"zero":false},"axis":null},"x2":{"field":"r2"},"y":{"field":"t","type":"quantitative","scale":{"domain":[1.803,3.0],"nice":false,"zero":false},"axis":null}}},
{"data":{"values":[{"r":3.2054,"t":2.6159}]},"mark":{"type":"point","shape":"M-1,0L1,-0.5L1,0.5Z","filled":true,"size":2025,"color":"#EE1289","opacity":1,"strokeWidth":0,"clip":false},
 "encoding":{"x":{"field":"r","type":"quantitative","scale":{"domain":[2.603,3.452],"nice":false,"zero":false},"axis":null},"y":{"field":"t","type":"quantitative","scale":{"domain":[1.803,3.0],"nice":false,"zero":false},"axis":null}}},
{"data":{"values":[{"s":"Back","r":3.328,"t":2.595},{"s":"Transition","r":3.328,"t":2.515}]},"mark":{"type":"text","font":"Liberation Sans","fontSize":52,"color":"#EE1289","align":"center","baseline":"alphabetic","clip":false},
 "encoding":{"x":{"field":"r","type":"quantitative","scale":{"domain":[2.603,3.452],"nice":false,"zero":false},"axis":null},"y":{"field":"t","type":"quantitative","scale":{"domain":[1.803,3.0],"nice":false,"zero":false},"axis":null},"text":{"field":"s"}}},
{"data":{"name":"shafts"},"mark":{"type":"rule","color":"#FFA54F","strokeWidth":5,"clip":false},
 "encoding":{"x":{"field":"r","type":"quantitative","scale":{"domain":[2.603,3.452],"nice":false,"zero":false},"axis":null},"y":{"field":"t","type":"quantitative","scale":{"domain":[1.803,3.0],"nice":false,"zero":false},"axis":null},"y2":{"field":"t2"}}},
{"data":{"name":"heads"},"mark":{"type":"point","filled":true,"size":1936,"color":"#FFA54F","opacity":1,"strokeWidth":0,"clip":false},
 "encoding":{"x":{"field":"r","type":"quantitative","scale":{"domain":[2.603,3.452],"nice":false,"zero":false},"axis":null},"y":{"field":"t","type":"quantitative","scale":{"domain":[1.803,3.0],"nice":false,"zero":false},"axis":null},
  "shape":{"field":"d","type":"nominal","scale":{"domain":["up","down"],"range":["M0,-1L0.5,1L-0.5,1Z","M0,1L0.5,-1L-0.5,-1Z"]},"legend":null}}},
{"data":{"values":[{"r":3.5012,"r2":3.7612,"t":2.4553}]},"mark":{"type":"rule","color":"#FFA54F","strokeWidth":5,"clip":false},
 "encoding":{"x":{"field":"r","type":"quantitative","scale":{"domain":[2.603,3.452],"nice":false,"zero":false},"axis":null},"x2":{"field":"r2"},"y":{"field":"t","type":"quantitative","scale":{"domain":[1.803,3.0],"nice":false,"zero":false},"axis":null}}},
{"data":{"name":"sans"},"mark":{"type":"text","font":"Liberation Sans","fontSize":50,"color":"#FFA54F","align":"left","baseline":"alphabetic","clip":false},
 "encoding":{"x":{"field":"r","type":"quantitative","scale":{"domain":[2.603,3.452],"nice":false,"zero":false},"axis":null},"y":{"field":"t","type":"quantitative","scale":{"domain":[1.803,3.0],"nice":false,"zero":false},"axis":null},"text":{"field":"s"}}},
{"data":{"values":[{"s":"= 0.62","r":3.768,"t":2.4393}]},"mark":{"type":"text","font":"Liberation Sans","fontSize":52,"color":"#FFA54F","align":"left","baseline":"alphabetic","clip":false},
 "encoding":{"x":{"field":"r","type":"quantitative","scale":{"domain":[2.603,3.452],"nice":false,"zero":false},"axis":null},"y":{"field":"t","type":"quantitative","scale":{"domain":[1.803,3.0],"nice":false,"zero":false},"axis":null},"text":{"field":"s"}}},
{"data":{"name":"serif"},"mark":{"type":"text","font":"Liberation Serif","fontWeight":"bold","fontSize":49,"color":"#FFA54F","align":"left","baseline":"alphabetic","clip":false},
 "encoding":{"x":{"field":"r","type":"quantitative","scale":{"domain":[2.603,3.452],"nice":false,"zero":false},"axis":null},"y":{"field":"t","type":"quantitative","scale":{"domain":[1.803,3.0],"nice":false,"zero":false},"axis":null},"text":{"field":"s"}}},
{"data":{"values":[{"s":"\"High Power\"","r":3.6979,"t":1.9971}]},"mark":{"type":"text","font":"Liberation Sans","fontSize":52,"color":"#FFA54F","align":"center","baseline":"alphabetic","clip":false},
 "encoding":{"x":{"field":"r","type":"quantitative","scale":{"domain":[2.603,3.452],"nice":false,"zero":false},"axis":null},"y":{"field":"t","type":"quantitative","scale":{"domain":[1.803,3.0],"nice":false,"zero":false},"axis":null},"text":{"field":"s"}}}
],
"resolve":{"axis":{"x":"independent","y":"independent"}}
}
